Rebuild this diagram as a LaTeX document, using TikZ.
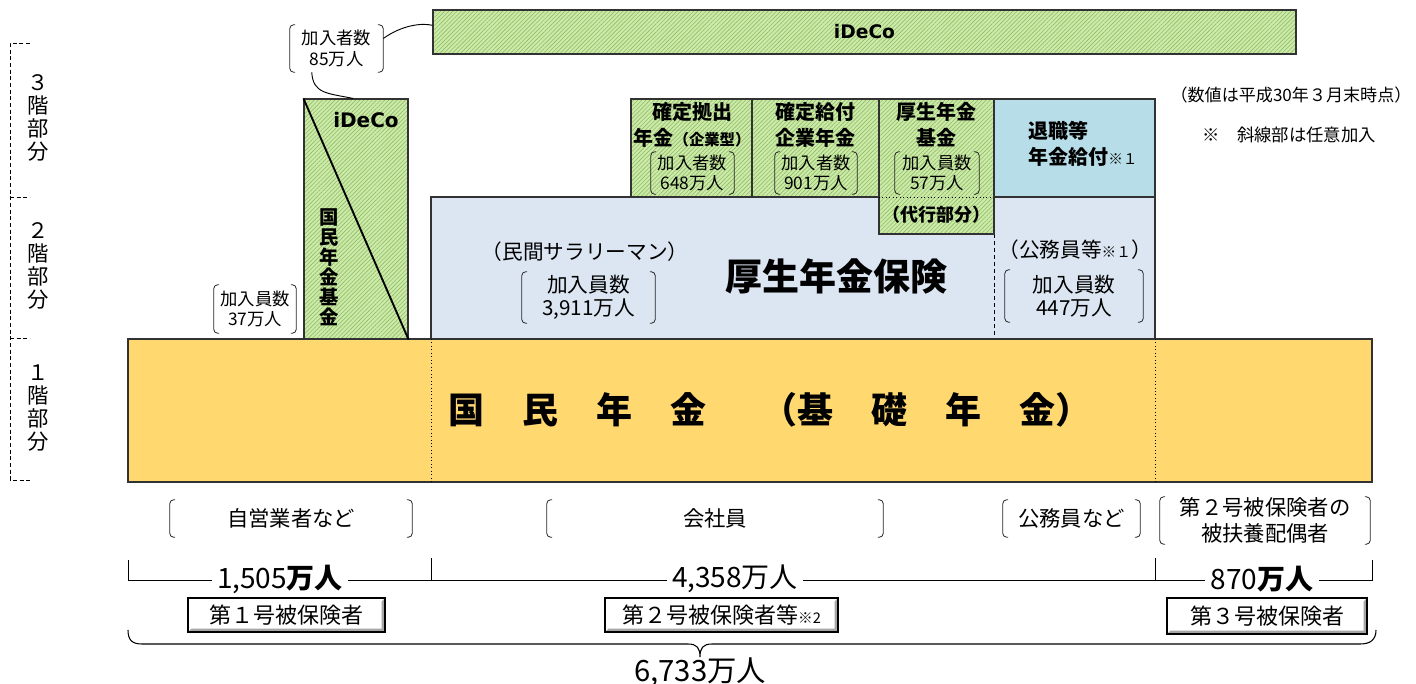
\documentclass[tikz,border=0pt]{standalone}
\usepackage{fontspec}
\setmainfont{Noto Sans CJK JP}
\newfontfamily\latfont{DejaVu Sans}
\usetikzlibrary{patterns.meta,calc}
\definecolor{hgreen}{RGB}{206,234,170}
\definecolor{hline}{RGB}{140,190,100}
\definecolor{yel}{RGB}{255,217,112}
\definecolor{lblue}{RGB}{220,230,242}
\definecolor{tblue}{RGB}{183,222,232}
\definecolor{edge}{RGB}{50,50,50}
\newcommand\fs[2]{\fontsize{#1}{#2}\selectfont}
\newcommand\pbrk[1]{%
  \draw[brk] ([xshift=4pt]#1.north west) -- (#1.north west) -- (#1.south west) -- ([xshift=4pt]#1.south west);
  \draw[brk] ([xshift=-4pt]#1.north east) -- (#1.north east) -- (#1.south east) -- ([xshift=-4pt]#1.south east);}
\begin{document}
\begin{tikzpicture}[x=0.75pt,y=-0.75pt,
  hatched/.style={draw=edge, line width=0.8pt, preaction={fill=hgreen},
    pattern={Lines[angle=45,distance=2.2pt,line width=0.45pt]}, pattern color=hline},
  box/.style={draw=edge, line width=0.8pt},
  brk/.style={line width=0.6pt, rounded corners=3pt, draw=black!85},
  t/.style={inner sep=0pt, align=center},
  bl/.style={t, font=\fs{13}{15.5}},
  conn/.style={line width=0.7pt, draw=black},
  bevel/.style={draw=black, line width=0.8pt, fill=white, inner sep=0pt, minimum height=25.5pt,
    font=\fs{16.5}{18},
    path picture={\fill[black!35] (path picture bounding box.south west) -- (path picture bounding box.south east)
      -- (path picture bounding box.north east) -- ([shift={(-2.5pt,-2.5pt)}]path picture bounding box.north east)
      -- ([shift={(-2.5pt,2.5pt)}]path picture bounding box.south east)
      -- ([shift={(2.5pt,2.5pt)}]path picture bounding box.south west) -- cycle;}},
  numtxt/.style={fill=white, inner xsep=4pt, inner ysep=0pt, font=\fs{21}{22}}
]
\useasboundingbox (0,0) rectangle (1416,684);

% left floor bracket
\draw[dashed, dash pattern=on 3pt off 2pt, line width=0.6pt] (30,43) -- (10,43) -- (10,480) -- (30,480);
\draw[dashed, dash pattern=on 3pt off 2pt, line width=0.6pt] (10,197) -- (30,197) (10,338) -- (30,338);
\node[t, font=\fs{16}{17.25}] (f3) at (38,118) {３\\階\\部\\分};
\node[t, font=\fs{16}{17.25}] (f2) at (38,266) {２\\階\\部\\分};
\node[t, font=\fs{16}{17.25}] (f1) at (38,408) {１\\階\\部\\分};

% blue box
\draw[box, fill=lblue] (431,197) rectangle (1155,339);
\draw[dashed, dash pattern=on 3pt off 2.2pt, line width=0.7pt] (994,234) -- (994,339);

% green boxes
\draw[hatched] (631,99) rectangle (752,197);
\draw[hatched] (752,99) rectangle (879,197);
\draw[hatched] (879,99) rectangle (994,234);
\draw[dotted, line width=0.6pt] (879,197) -- (994,197);
\draw[box, fill=tblue] (994,99) rectangle (1155,197);

% yellow
\draw[box, fill=yel] (128,339) rectangle (1372,482);
\draw[dotted, line width=0.6pt] (431,339) -- (431,482) (1155,339) -- (1155,482);

% iDeCo bars
\node[hatched, minimum width=647.25pt, minimum height=33pt, font=\latfont\bfseries\fs{14}{16}] (ideco) at (864.5,32) {iDeCo};
\node[hatched, minimum width=78pt, minimum height=180pt, inner sep=0pt] (kikin) at (356,219) {};
\draw[line width=1.4pt] (kikin.north west) -- (kikin.south east);
\node[t, font=\latfont\bfseries\fs{15}{17}] (ideco2) at (366,120) {iDeCo};
\node[t, font=\bfseries\fs{14.5}{15}] (kikintxt) at (329,267) {国\\民\\年\\金\\基\\金};

% bracket labels upper left
\node[bl, minimum width=69.75pt, minimum height=35.25pt] (n85) at (336.5,48.5) {加入者数\\85万人};
\pbrk{n85}
\node[bl, minimum width=61.5pt, minimum height=36pt] (n37) at (255,309) {加入員数\\37万人};
\pbrk{n37}
\draw[conn] ([yshift=7.5pt]n85.east) .. controls +(14pt,10pt) and +(-8pt,2pt) .. ([yshift=5pt]ideco.west);
\draw[conn] ([xshift=16.5pt]n85.south west) .. controls +(1pt,-16pt) and +(-20pt,4pt) .. ([xshift=-2pt]kikin.north);

% green box texts
\node[t, font=\bfseries\fs{15}{19.5}] (dc) at (692,125) {確定拠出\\年金{\fs{11.5}{11}（企業型）}};
\node[t, font=\bfseries\fs{15}{19.5}] (db) at (815,125) {確定給付\\企業年金};
\node[t, font=\bfseries\fs{15}{19.5}] (kk) at (936,125) {厚生年金\\基金};
\node[bl, minimum width=62.25pt, minimum height=31.5pt] (n648) at (692.5,173) {加入者数\\648万人};
\pbrk{n648}
\node[bl, minimum width=61.5pt, minimum height=31.5pt] (n901) at (816,173) {加入者数\\901万人};
\pbrk{n901}
\node[bl, minimum width=63pt, minimum height=31.5pt] (n57) at (937,173) {加入員数\\57万人};
\pbrk{n57}
\node[t, font=\bfseries\fs{13.5}{16}] (daiko) at (936,215) {（代行部分）};
\node[t, align=left, anchor=west, font=\bfseries\fs{15}{19.5}] (taishoku) at (1028,144) {退職等\\年金給付{\mdseries\fs{11}{11}※１}};

% notes
\node[t, font=\fs{12.8}{14}] (note1) at (1291,95) {（数値は平成30年３月末時点）};
\node[t, font=\fs{13}{14}] (note2) at (1289,135) {※　斜線部は任意加入};

% blue box texts
\node[t, font=\fs{15.5}{17}] (minkan) at (585,252) {（民間サラリーマン）};
\node[t, font=\fs{15.5}{17}, minimum width=99.75pt, minimum height=38.25pt] (n3911) at (588.5,297.5) {加入員数\\3,911万人};
\pbrk{n3911}
\node[t, font=\bfseries\fs{27.75}{30}] (kousei) at (836,276) {厚生年金保険};
\node[t, font=\fs{15.5}{17}] (koumu) at (1075,250) {（公務員等{\fs{11}{11}※１}）};
\node[t, font=\fs{15.5}{17}, minimum width=103.5pt, minimum height=39pt] (n447) at (1074,296) {加入員数\\447万人};
\pbrk{n447}

% yellow text
\node[t, font=\bfseries\fs{27}{30}] (kokumin) at (770,410) {国\hspace{28.5pt}民\hspace{28.5pt}年\hspace{28.5pt}金\hspace{41pt}（基\hspace{28.5pt}礎\hspace{28.5pt}年\hspace{28.5pt}金）};

% bottom brackets
\node[t, font=\fs{16}{19}, minimum width=181.5pt, minimum height=27.75pt] (jiei) at (291,518.5) {自営業者など};
\pbrk{jiei}
\node[t, font=\fs{16}{19}, minimum width=252pt, minimum height=27.75pt] (kaisha) at (715,518.5) {会社員};
\pbrk{kaisha}
\node[t, font=\fs{16}{19}, minimum width=102.75pt, minimum height=27.75pt] (koumu2) at (1071.5,518.5) {公務員など};
\pbrk{koumu2}
\node[t, font=\fs{16}{19.5}, minimum width=157.5pt, minimum height=35.25pt] (fuyou) at (1265,520.5) {第２号被保険者の\\被扶養配偶者};
\pbrk{fuyou}

% number line
\draw[line width=0.7pt] (128,560) -- (128,580) -- (1372,580) -- (1372,560);
\draw[line width=0.7pt] (431,558) -- (431,580) (1155,558) -- (1155,580);
\node[numtxt] (c1) at (280,579) {1,505{\bfseries 万人}};
\node[numtxt] (c2) at (735,579) {4,358万人};
\node[numtxt] (c3) at (1262,579) {870{\bfseries 万人}};

% category boxes
\node[bevel, minimum width=147.75pt] (g1) at (286.5,615) {第１号被保険者};
\node[bevel, minimum width=174.75pt] (g2) at (721.5,615) {第２号被保険者等{\fs{11}{11}※2}};
\node[bevel, minimum width=150pt, minimum height=27pt] (g3) at (1267,616) {第３号被保険者};

% big brace
\draw[line width=0.8pt] (128,630) .. controls (128,640) and (132,644) .. (142,644) -- (688,644)
  .. controls (697,644) and (700,648) .. (700,657) .. controls (700,648) and (703,644) .. (712,644)
  -- (1360,644) .. controls (1370,644) and (1376,640) .. (1376,630);
\node[t, font=\fs{22}{24}] (total) at (700,672) {6,733万人};
\end{tikzpicture}
\end{document}
